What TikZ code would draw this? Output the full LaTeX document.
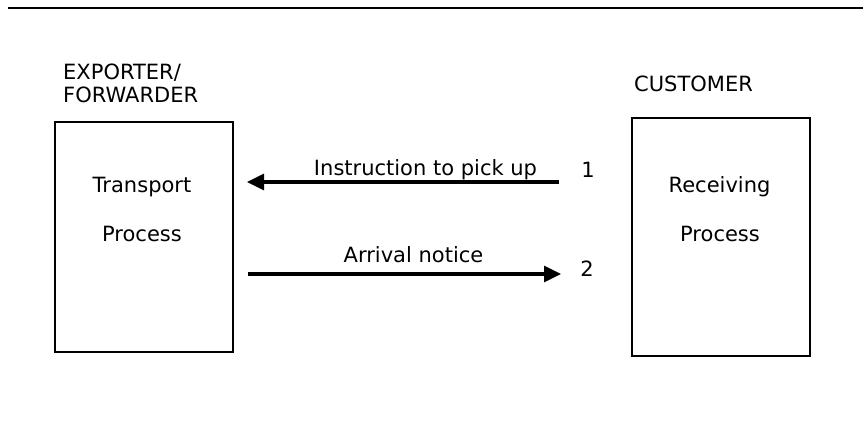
\documentclass[tikz,border=0pt]{standalone}
\usepackage{fontspec}
\setmainfont{DejaVu Sans}
\usetikzlibrary{arrows.meta}
\begin{document}
\begin{tikzpicture}[x=1pt,y=-1pt,
  lbl/.style={font=\fontsize{21}{24}\selectfont, inner sep=0pt, anchor=base},
  lbll/.style={lbl, anchor=base west},
  procbox/.style={draw, line width=1.5pt, inner sep=0pt},
  flow/.style={line width=3.2pt, -{Triangle[length=17pt,width=16pt]}},
  rule/.style={line width=1.8pt}]
\useasboundingbox (0,0) rectangle (863,432);
% top rule
\coordinate (rl) at (8,8);
\coordinate (rr) at (863,8);
\draw[rule] (rl) -- (rr);
% boxes
\node[procbox, minimum width=178pt, minimum height=230pt] (tp) at (144,237) {};
\node[procbox, minimum width=178pt, minimum height=238pt] (rp) at (721,237) {};
% box texts
\node[lbl] (tp1) at (142,192.7) {Transport};
\node[lbl] (tp2) at (142,241.7) {Process};
\node[lbl] (rp1) at (719.5,192.7) {Receiving};
\node[lbl] (rp2) at (720,241.7) {Process};
% headers
\node[lbll] (ex1) at (63,79) {EXPORTER/};
\node[lbll] (ex2) at (63,102.7) {FORWARDER};
\node[lbll] (cu) at (634,91) {CUSTOMER};
% arrows
\coordinate (a1s) at (559,182);
\coordinate (a1e) at (247,182);
\coordinate (a2s) at (248,274);
\coordinate (a2e) at (561,274);
\draw[flow] (a1s) -- (a1e);
\draw[flow] (a2s) -- (a2e);
\node[lbl] (m1) at (425.5,175) {Instruction to pick up};
\node[lbl] (m2) at (413.5,262.7) {Arrival notice};
\node[lbl] (n1) at (588,177) {1};
\node[lbl] (n2) at (587,276.7) {2};
\end{tikzpicture}
\end{document}
